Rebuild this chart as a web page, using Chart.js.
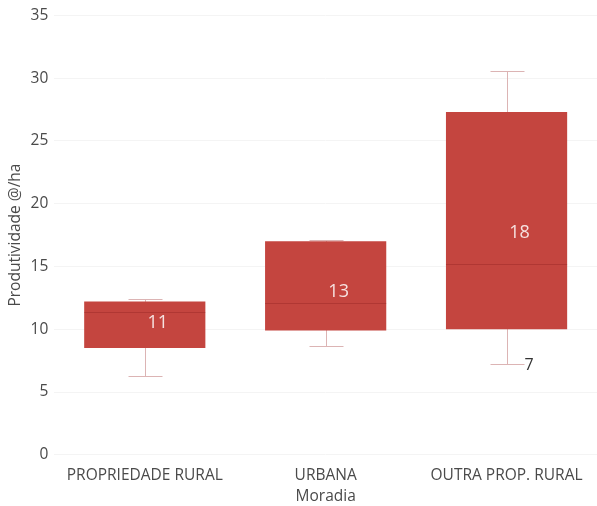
<!DOCTYPE html>
<html>
<head>
<meta charset="utf-8">
<script src="https://cdn.jsdelivr.net/npm/chart.js@4"></script>
<style>
  html, body { margin: 0; padding: 0; background: #fff; }
  #wrap { width: 597px; height: 506px; }
</style>
</head>
<body>
<div id="wrap"><canvas id="chart" width="597" height="506"></canvas></div>
<script>
// box plot data
const categories = ['PROPRIEDADE RURAL', 'URBANA', 'OUTRA PROP. RURAL'];
const whiskerLow = [6.3, 8.7, 7.2];
const q1 = [8.5, 9.9, 10.0];
const median = [11.4, 12.1, 15.2];
const q3 = [12.2, 17.0, 27.3];
const whiskerHigh = [12.4, 17.1, 30.6];
const mean = [10.5, 13.0, 17.7];
const meanLabels = ['11', '13', '18'];
const lowLabels = [null, null, '7'];

const boxColor = '#c4453f';
const whiskerColor = '#dcb4b4';
const font = "'Open Sans', 'Noto Sans', sans-serif";
const textColor = '#4a4a4a';

const boxPlot = {
  id: 'boxPlot',
  beforeDatasetsDraw(chart) {
    const ctx = chart.ctx;
    const y = chart.scales.y;
    const meta = chart.getDatasetMeta(0);
    ctx.save();
    ctx.strokeStyle = whiskerColor;
    ctx.lineWidth = 1;
    meta.data.forEach((bar, i) => {
      const x = Math.round(bar.x) + 0.5;
      const capW = 17;
      const yl = Math.round(y.getPixelForValue(whiskerLow[i])) + 0.5;
      const yh = Math.round(y.getPixelForValue(whiskerHigh[i])) + 0.5;
      ctx.beginPath();
      ctx.moveTo(x, yl); ctx.lineTo(x, yh);
      ctx.moveTo(x - capW, yl); ctx.lineTo(x + capW, yl);
      ctx.moveTo(x - capW, yh); ctx.lineTo(x + capW, yh);
      ctx.stroke();
    });
    ctx.restore();
  },
  afterDatasetsDraw(chart) {
    const ctx = chart.ctx;
    const y = chart.scales.y;
    const meta = chart.getDatasetMeta(0);
    ctx.save();
    meta.data.forEach((bar, i) => {
      const half = bar.width / 2;
      const ym = Math.round(y.getPixelForValue(median[i])) + 0.5;
      ctx.strokeStyle = 'rgba(140,30,30,0.35)';
      ctx.lineWidth = 1;
      ctx.beginPath();
      ctx.moveTo(bar.x - half, ym); ctx.lineTo(bar.x + half, ym);
      ctx.stroke();

      ctx.font = '18px ' + font;
      ctx.fillStyle = '#f6e2e0';
      ctx.textAlign = 'center';
      ctx.textBaseline = 'middle';
      ctx.fillText(meanLabels[i], bar.x + 13, y.getPixelForValue(mean[i]));

      if (lowLabels[i]) {
        ctx.font = '16px ' + font;
        ctx.fillStyle = '#333';
        ctx.textAlign = 'left';
        ctx.fillText(lowLabels[i], bar.x + 18, y.getPixelForValue(whiskerLow[i]) + 1);
      }
    });
    ctx.restore();
  }
};

new Chart(document.getElementById('chart').getContext('2d'), {
  type: 'bar',
  data: {
    labels: categories,
    datasets: [{
      data: categories.map((c, i) => [q1[i], q3[i]]),
      backgroundColor: boxColor,
      borderWidth: 0,
      categoryPercentage: 1,
      barPercentage: 0.67
    }]
  },
  options: {
    responsive: false,
    animation: false,
    layout: { padding: { top: 7, right: 0, left: 6, bottom: 0 } },
    plugins: {
      legend: { display: false },
      tooltip: { enabled: false }
    },
    scales: {
      x: {
        grid: { display: false },
        border: { display: false },
        ticks: { color: textColor, font: { family: font, size: 15.5 }, padding: 3 },
        title: { display: true, text: 'Moradia', color: textColor, font: { family: font, size: 15.5 }, padding: { top: 0, bottom: 0 } }
      },
      y: {
        min: 0,
        max: 35,
        ticks: { stepSize: 5, color: textColor, font: { family: font, size: 15.5 }, padding: 6 },
        grid: { color: '#f4f4f4', drawTicks: false },
        border: { display: false },
        title: { display: true, text: 'Produtividade @/ha', color: textColor, font: { family: font, size: 15.5 }, padding: { bottom: 0, top: 0 } }
      }
    }
  },
  plugins: [boxPlot]
});
</script>
</body>
</html>
